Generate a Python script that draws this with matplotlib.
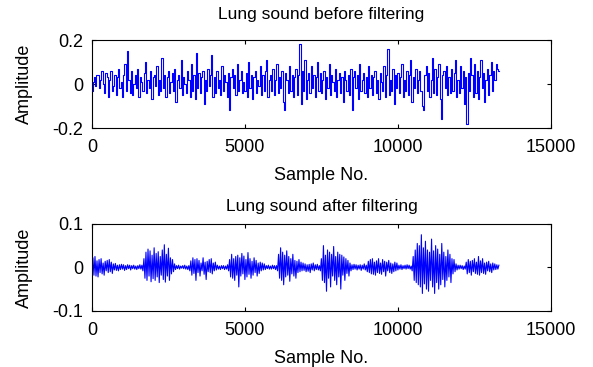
import numpy as np
import matplotlib
matplotlib.use('Agg')
import matplotlib.pyplot as plt

plt.rcParams['font.family'] = ['Liberation Sans', 'DejaVu Sans']

n_samples = 13300

# raw lung sound, values in units of 0.001
raw_milli = [
    -30, 10, 30, -10, 40, 40, -20, 20, 60, 0, -40, 50, 30, -60, 20, 60, -30, -10, 40, -50,
    30, 70, -20, 10, -60, 40, 90, -30, 150, 20, -40, 60, -50, 0, 40, -20, 70, -60, 30, 10,
    -30, 50, 100, -40, 20, -20, 60, -70, 30, 40, -10, 80, -50, 20, -30, 120, -20, 40, -60, 30,
    60, -40, 10, 50, -30, 70, -80, 20, 40, -20, 110, -50, 30, 0, -40, 60, 20, -60, 90, -30,
    40, -70, 140, -20, 50, -40, 30, 60, -90, 20, -30, 70, -10, 40, 130, -60, 30, -40, 60, -20,
    20, -50, 80, -30, 40, 10, -60, 50, -120, 30, 70, -20, 40, -50, 90, -30, 20, 60, -40, 10,
    -30, 50, -60, 100, -20, 40, -70, 30, 60, -40, 20, -10, 80, -50, 40, -30, 60, 110, -60, 20,
    40, -30, 70, -50, 20, 90, -40, 30, -20, 60, -80, -120, 50, 20, -40, 80, -30, 40, -60, 30,
    70, -50, 40, 180, -90, 60, -30, 110, -70, 20, 50, -40, 80, -20, 40, -60, 30, 100, -30, 50,
    -40, 20, 60, -70, 30, -20, 90, -50, 40, 10, -30, 70, -60, 20, 50, -40, 30, -80, 60, 20,
    -30, 40, -50, 70, -120, 30, 60, -20, 40, -70, 90, -30, 20, 50, -40, 30, -60, 80, -20, 40,
    -50, 30, 60, -40, 20, -70, 50, 10, -30, 80, -60, 40, 160, -50, 20, -30, 70, -90, 40, -20,
    50, -40, 30, 90, -60, 20, -30, 60, -50, 40, 110, -80, 30, -20, 70, -40, 20, 60, -30, -100,
    -120, 40, 80, -30, 50, -60, 20, 120, -40, 70, -50, 30, 90, -70, -160, 40, 60, -20, 80, -50,
    30, -40, 70, -30, 50, 110, -60, 20, -40, 80, -20, 60, -90, 30, -180, 50, -30, 120, 40, -60,
    90, -40, 60, -70, 30, 110, -20, 50, -80, 20, 70, -50, 40, 100, -30, 60, 20, 90, 70, 60,
]

# filtered lung sound, values in units of 0.001
filt_milli = [
    5, 22, -18, 25, -20, 15, -22, 18, -12, 20, -15, 10, -18, 14, -8, 16, -12, 18, -10, 12,
    -14, 8, -6, 9, -7, 5, -8, 6, -5, 7, -4, 6, -7, 4, -5, 6, -3, 5, -6, 4,
    -3, 5, -4, 3, -5, 4, -3, 6, -4, 5, -8, 20, -25, 35, -30, 42, -20, 38, -33, 28,
    -26, 45, -30, 32, -22, 36, -35, 25, -18, 40, -28, 52, -34, 30, -20, 44, -30, 22, -15, 18,
    -10, 8, -5, 4, -3, 5, -4, 3, -2, 4, -3, 5, -4, 3, -5, 4, -8, 15, -18, 22,
    -14, 18, -30, 20, -12, 16, -20, 10, -8, 22, -16, 12, -28, 14, -10, 18, -12, 20, -15, 10,
    -8, 12, -6, 5, -4, 3, -5, 4, -3, 4, -5, 3, -4, 6, -8, 18, -22, 30, -25, 20,
    -30, 25, -18, 28, -45, 22, -20, 32, -15, 26, -28, 18, -22, 34, -16, 20, -25, 14, -18, 22,
    -12, 16, -20, 10, -14, 12, -8, 10, -6, 8, -5, 4, -3, 5, -4, 3, -4, 5, -3, 4,
    -5, 4, -8, 30, -25, 45, -30, 35, -40, 28, -22, 38, -18, 25, -32, 20, -15, 30, -20, 16,
    -25, 14, -12, 18, -10, 12, -8, 10, -7, 8, -10, 6, -9, 7, -12, 8, -6, 10, -8, 6,
    -5, 7, -6, 4, -8, 20, -30, 50, -35, 28, -55, 40, -25, 35, -45, 30, -20, 48, -30, 25,
    -40, 35, -22, 30, -50, 28, -18, 24, -30, 20, -14, 16, -20, 10, -8, 6, -5, 7, -4, 6,
    -6, 5, -4, 6, -7, 5, -4, 8, -6, 5, -10, 14, -12, 18, -15, 20, -16, 12, -18, 15,
    -12, 20, -14, 10, -16, 18, -10, 14, -20, 12, -8, 16, -12, 10, -14, 8, -10, 12, -8, 10,
    -6, 5, -4, 6, -5, 4, -3, 5, -4, 6, -3, 5, -4, 3, -8, 25, -30, 40, -35, 55,
    -40, 50, -45, 75, -60, 45, -38, 60, -50, 40, -55, 35, -30, 65, -45, 38, -60, 50, -35, 42,
    -50, 30, -40, 55, -28, 35, -45, 25, -30, 40, -22, 30, -35, 20, -15, 18, -10, 8, -6, 5,
    -4, 5, -3, 4, -5, 3, -4, 12, -15, 18, -12, 14, -18, 16, -10, 20, -14, 12, -16, 25,
    -18, 15, -12, 20, -14, 10, -16, 12, -8, 14, -10, 8, -12, 10, -6, 8, -5, 6, -4, 5,
]

raw = np.array(raw_milli) / 1000.0
filt = np.array(filt_milli) / 1000.0
x_raw = np.linspace(0, n_samples, len(raw))
x_filt = np.linspace(0, n_samples, len(filt))

xticks = [0, 5000, 10000, 15000]

fig = plt.figure(figsize=(5.93, 3.67), dpi=100)
ax1 = fig.add_axes([0.155, 0.651, 0.774, 0.240])
ax2 = fig.add_axes([0.155, 0.153, 0.774, 0.237])

ax1.plot(x_raw, raw, color='#0000ff', lw=0.8, drawstyle='steps-mid')
ax1.set_ylim(-0.2, 0.2)
ax1.set_yticks([-0.2, 0, 0.2])
ax1.set_yticklabels(['-0.2', '0', '0.2'])
ax1.set_title('Lung sound before filtering', fontsize=12.5, pad=15)

ax2.plot(x_filt, filt, color='#0000ff', lw=0.8)
ax2.set_ylim(-0.1, 0.1)
ax2.set_yticks([-0.1, 0, 0.1])
ax2.set_yticklabels(['-0.1', '0', '0.1'])
ax2.set_title('Lung sound after filtering', fontsize=12.5, pad=9)

for ax in (ax1, ax2):
    ax.set_xlim(0, 15000)
    ax.set_xticks(xticks)
    ax.set_xticklabels([str(t) for t in xticks])
    ax.set_xlabel('Sample No.', fontsize=13, labelpad=8)
    ax.set_ylabel('Amplitude', fontsize=13, labelpad=14)
    ax.tick_params(direction='in', top=True, right=True, length=3, width=0.8,
                   labelsize=13)
    ax.tick_params(axis='x', pad=8)
    ax.tick_params(axis='y', pad=6)
    for s in ax.spines.values():
        s.set_linewidth(0.8)

fig.savefig('out.png', dpi=100)
